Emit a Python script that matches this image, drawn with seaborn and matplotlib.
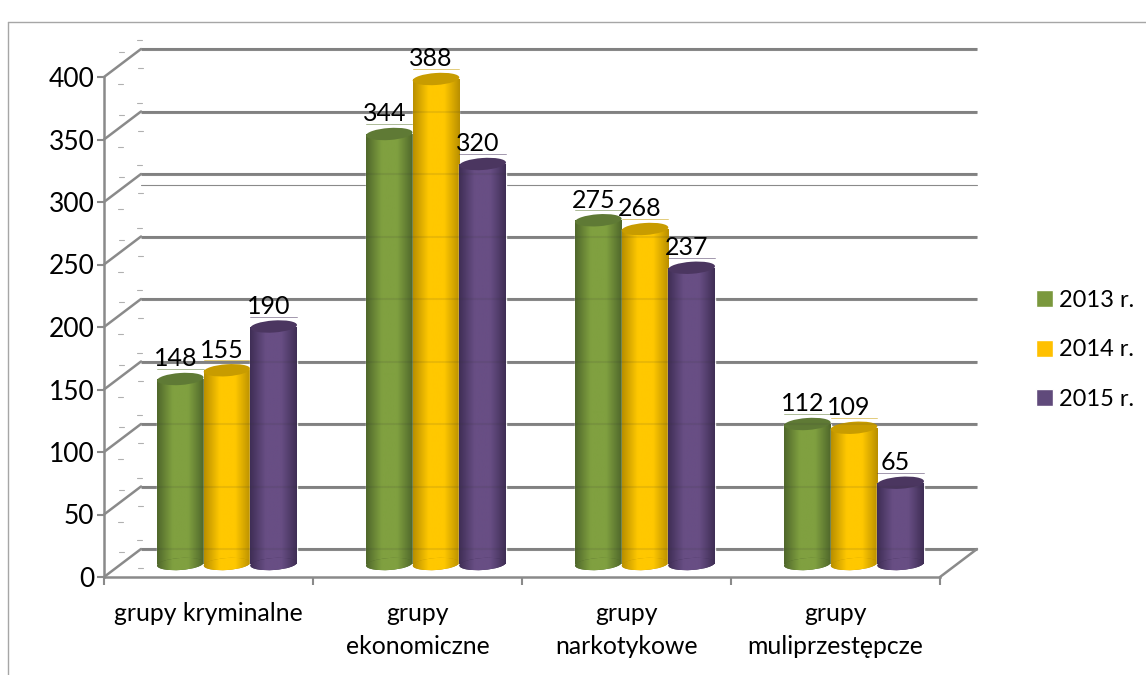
import numpy as np
import pandas as pd
import matplotlib
matplotlib.use('Agg')
import matplotlib.pyplot as plt
import seaborn as sns
from matplotlib.colors import LinearSegmentedColormap
from matplotlib.lines import Line2D
from matplotlib.patches import Ellipse
from matplotlib.transforms import Affine2D, IdentityTransform

categories = ['grupy kryminalne', 'grupy\nekonomiczne', 'grupy\nnarkotykowe', 'grupy\nmuliprzestępcze']
years = ['2013 r.', '2014 r.', '2015 r.']
values_2013 = [148, 344, 275, 112]
values_2014 = [155, 388, 268, 109]
values_2015 = [190, 320, 237, 65]
y_ticks = [0, 50, 100, 150, 200, 250, 300, 350, 400]

legend_colors = ['#7a983d', '#ffc000', '#604a7b']
edge_colors = ['#4f672b', '#b98f00', '#3f2e55']
mid_colors = ['#80a040', '#ffc800', '#684e84']
top_colors = ['#5f7a35', '#c89c00', '#4b3660']

df = pd.DataFrame({
    'group': categories * 3,
    'year': np.repeat(years, 4),
    'value': values_2013 + values_2014 + values_2015,
})

sns.set_theme(style='white')
plt.rcParams['font.family'] = ['Lato', 'DejaVu Sans']
grey = '#8a8a8a'

W, H = 1146, 675
fig = plt.figure(figsize=(W / 100, H / 100), dpi=100)
ax = fig.add_axes([104 / W, (H - 577) / H, 836 / W, 500 / H])

sns.barplot(data=df, x='group', y='value', hue='year', hue_order=years,
            palette=legend_colors, width=0.67, gap=0, saturation=1,
            legend=False, ax=ax)
ax.set_xlim(-0.5, 3.5)
ax.set_ylim(0, 400)
ax.set_xlabel('')
ax.set_ylabel('')

# fake 3d: back wall is shifted up and right, bars sit in the middle of the floor
wall = ax.transData + Affine2D().translate(37, 28)
bar_shift = ax.transData + Affine2D().translate(18.5, 13)


def fig_line(x0, y0, x1, y1, **kw):
    # line in pixel coords, on the figure
    fig.add_artist(Line2D([x0 / W, x1 / W], [y0 / H, y1 / H], **kw))


for v in y_ticks:
    ax.plot([-0.5, 3.5], [v, v], color=grey, lw=2.2, transform=wall, clip_on=False, zorder=1, solid_capstyle='butt')
    p0 = ax.transData.transform((-0.5, v))
    fig_line(p0[0], p0[1], p0[0] + 37, p0[1] + 28, color=grey, lw=1.8, zorder=1)
    # stray dashes around the side wall
    for dx, dy in [(33, 37), (15, 25), (34, 9), (14, -7)]:
        if v == 0 and dy < 0:
            continue
        fig_line(p0[0] + dx, p0[1] + dy, p0[0] + dx + 5, p0[1] + dy, color='#b0b0b0', lw=0.8)
# thin extra line on the wall
ax.plot([-0.5, 3.5], [291, 291], color=grey, lw=0.8, transform=wall, clip_on=False, zorder=1)
# right edge of the floor
p1 = ax.transData.transform((3.5, 0))
fig_line(p1[0], p1[1], p1[0] + 37, p1[1] + 28, color=grey, lw=1.8, zorder=1)

for i, container in enumerate(ax.containers):
    cmap = LinearSegmentedColormap.from_list(
        'cyl', [edge_colors[i], mid_colors[i], mid_colors[i], edge_colors[i]])
    grad = np.linspace(0, 1, 128)[None, :]
    z = 3 + i
    for bar in container:
        bar.set_transform(bar_shift)
        bar.set_zorder(z)
        bar.set_clip_on(False)
        x0, w, v = bar.get_x(), bar.get_width(), bar.get_height()
        im = ax.imshow(grad, cmap=cmap, extent=(x0, x0 + w, 0, v), aspect='auto',
                       transform=bar_shift, zorder=z, interpolation='bilinear')
        im.set_clip_path(bar)

        bx, by = bar_shift.transform((x0 + w / 2, 0))
        tx, ty = bar_shift.transform((x0 + w / 2, v))
        wpx = bar_shift.transform((x0 + w, 0))[0] - bar_shift.transform((x0, 0))[0]

        base = Ellipse((bx, by), wpx, 12, angle=4, transform=IdentityTransform(),
                       facecolor=edge_colors[i], edgecolor='none', zorder=z, clip_on=False)
        ax.add_patch(base)
        im2 = ax.imshow(grad, cmap=cmap, extent=(x0, x0 + w, -10, 10), aspect='auto',
                        transform=bar_shift, zorder=z, interpolation='bilinear')
        im2.set_clip_path(base)

        top = Ellipse((tx, ty), wpx, 12, angle=4, transform=IdentityTransform(),
                      facecolor=top_colors[i], edgecolor='none', zorder=z + 0.1, clip_on=False)
        ax.add_patch(top)

        # thin line above each cylinder, as in the source image
        lx0, ly = ax.transAxes.inverted().transform((bx - wpx / 2, ty + 10))
        lx1 = ax.transAxes.inverted().transform((bx + wpx / 2, ty + 10))[0]
        ax.plot([lx0, lx1], [ly, ly], color=top_colors[i], lw=0.6, alpha=0.6,
                transform=ax.transAxes, clip_on=False, zorder=z)

        ax.annotate(f'{v:.0f}', xy=(tx, ty), xycoords=IdentityTransform(), xytext=(-3.6, 14.5),
                    textcoords='offset points', ha='center', va='center',
                    fontsize=18, color='black', zorder=10, annotation_clip=False)

ax.set_xlim(-0.5, 3.5)
ax.set_ylim(0, 400)

# faint trace of the wall lines through the bars
for v in y_ticks:
    ax.plot([-0.5, 3.5], [v, v], color='#333333', lw=1.5, alpha=0.1, transform=wall, clip_on=False, zorder=7)

sns.despine(ax=ax, top=True, right=True)
for side in ['left', 'bottom']:
    ax.spines[side].set_color(grey)
    ax.spines[side].set_linewidth(1.8)
ax.set_yticks(y_ticks)
ax.set_xticks(np.arange(-0.5, 4), labels=[''] * 5)
ax.set_xticks(range(4), labels=categories, minor=True)
ax.tick_params(axis='x', which='major', length=6, width=1.5, color=grey, bottom=True)
ax.tick_params(axis='x', which='minor', length=0, pad=18, labelsize=17.8, labelcolor='black')
ax.tick_params(axis='y', length=5, width=1.5, color=grey, left=True, pad=2, labelsize=19, labelcolor='black')
for label in ax.get_xticklabels(minor=True):
    label.set_linespacing(1.55)
ax.patch.set_alpha(0)

handles = [plt.Rectangle((0, 0), 1, 1, facecolor=c) for c in legend_colors]
fig.legend(handles, years, loc='center left', bbox_to_anchor=(1017 / W, (H - 350) / H),
           frameon=False, fontsize=17, handlelength=0.74, handleheight=0.74,
           handletextpad=0.25, labelspacing=1.2, borderpad=0.3, labelcolor='black')

# chart frame
fig_line(8, 0, 8, H - 22, color='#a6a6a6', lw=1)
fig_line(8, H - 22, W, H - 22, color='#a6a6a6', lw=1)

fig.savefig('out.png', dpi=100)
